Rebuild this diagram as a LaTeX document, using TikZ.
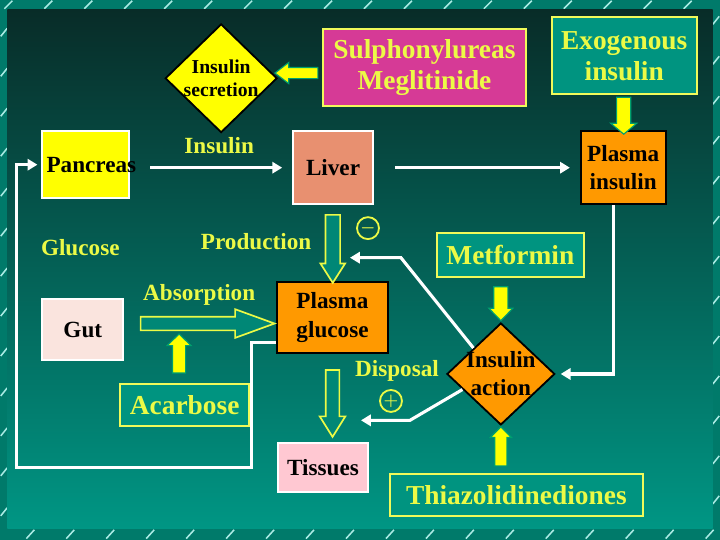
\documentclass[tikz,border=0pt]{standalone}
\usepackage{fontspec}
\setmainfont{Liberation Serif}
\usetikzlibrary{arrows.meta,positioning,shapes.geometric,shapes.arrows,calc}
\definecolor{mframe}{RGB}{0,122,106}
\definecolor{mdash}{RGB}{170,235,228}
\definecolor{mpanelt}{RGB}{8,44,40}
\definecolor{mpanelm}{RGB}{0,104,90}
\definecolor{mpanelb}{RGB}{0,150,132}
\definecolor{myellow}{RGB}{255,255,0}
\definecolor{mtext}{RGB}{236,250,70}
\definecolor{mbord}{RGB}{240,250,90}
\definecolor{mmag}{RGB}{214,58,150}
\definecolor{mbox}{RGB}{0,148,128}
\definecolor{mhollow}{RGB}{0,135,118}
\definecolor{mliver}{RGB}{232,144,112}
\definecolor{morange}{RGB}{255,153,0}
\definecolor{mgut}{RGB}{250,228,222}
\definecolor{mtis}{RGB}{255,200,210}
\definecolor{mgreen}{RGB}{0,160,110}

\begin{document}
\begin{tikzpicture}[
    box/.style={draw=mbord, line width=1.3pt, inner sep=0pt, align=center},
    ybox/.style={box, text=mtext, font=\fontsize{19.5}{22}\selectfont\bfseries},
    kbox/.style={draw, line width=1.3pt, inner sep=0pt, align=center, text=black,
                 font=\fontsize{16.5}{20}\selectfont\bfseries},
    lbl/.style={text=mtext, font=\fontsize{16.5}{18}\selectfont\bfseries},
    diam/.style={diamond, draw=black, line width=1.3pt, inner sep=0pt},
    dtxt/.style={align=center, text=black, inner sep=0pt},
    wire/.style={draw=white, line width=2.2pt, -{Triangle[length=7pt,width=8pt]}},
    fat/.style={single arrow, fill=myellow, draw=mgreen, line width=0.8pt, inner xsep=0pt},
    hollow/.style={single arrow, fill=mhollow, draw=mtext, line width=1.2pt, inner xsep=0pt},
    sign/.style={circle, draw=mtext, line width=1.3pt, text=mtext, inner sep=0pt,
                 minimum size=0.55cm, font=\fontsize{13}{13}\selectfont\boldmath},
  ]
    % frame and panel
    \fill[mframe] (0,0) rectangle (18,13.5);
    \foreach \x in {0.1,1.1,...,17.2}
      \draw[mdash, line width=1.1pt] (\x,13.29) -- ++(0.2,0.2);
    \foreach \x in {0.65,1.65,...,17.7}
      \draw[mdash, line width=1.1pt] (\x,0.03) -- ++(0.2,0.22);
    \foreach \y in {0.6,1.6,...,13}
      \draw[mdash, line width=1.1pt] (0.01,\y) -- ++(0.16,0.2);
    \foreach \y in {0.9,1.9,...,13}
      \draw[mdash, line width=1.1pt] (17.83,\y) -- ++(0.16,0.2);
    \shade[top color=mpanelt, middle color=mpanelm, bottom color=mpanelb]
      (0.175,0.275) rectangle (17.825,13.275);

    % boxes
    \node[ybox, fill=mmag, minimum width=5.075cm, minimum height=1.925cm] (sulf) at (10.6125,11.8125) {Sulphonylureas\\Meglitinide};
    \node[ybox, fill=mbox, minimum width=3.625cm, minimum height=1.925cm] (exo) at (15.6125,12.1125) {Exogenous\\insulin};
    \node[diam, fill=myellow, minimum width=2.8cm, minimum height=2.72cm,
          label={[dtxt, font=\fontsize{14}{17}\selectfont\bfseries]center:{Insulin\\secretion}}] (secr) at (5.525,11.55) {};
    \node[kbox, draw=white, fill=myellow, minimum width=2.175cm, minimum height=1.675cm,
          label={[dtxt, font=\fontsize{16.5}{20}\selectfont\bfseries, xshift=0.14cm]center:Pancreas}] (pan) at (2.1375,9.3875) {};
    \node[kbox, draw=white, fill=mliver, minimum width=2cm, minimum height=1.825cm] (liver) at (8.325,9.3125) {Liver};
    \node[kbox, fill=morange, minimum width=2.125cm, minimum height=1.825cm] (pins) at (15.5875,9.3125) {Plasma\\insulin};
    \node[ybox, fill=mbox, minimum width=3.675cm, minimum height=1.1cm] (met) at (12.7625,7.125) {Metformin};
    \node[kbox, fill=morange, minimum width=2.775cm, minimum height=1.775cm] (pglu) at (8.3125,5.5625) {Plasma\\glucose};
    \node[kbox, draw=white, fill=mgut, minimum width=2.025cm, minimum height=1.525cm] (gut) at (2.0625,5.2625) {Gut};
    \node[ybox, fill=mbox, minimum width=3.225cm, minimum height=1.05cm] (acarb) at (4.6125,3.375) {Acarbose};
    \node[kbox, draw=white, fill=mtis, minimum width=2.25cm, minimum height=1.225cm] (tis) at (8.075,1.8125) {Tissues};
    \node[diam, fill=morange, minimum width=2.7cm, minimum height=2.55cm,
          label={[dtxt, font=\fontsize{16.5}{20}\selectfont\bfseries]center:{Insulin\\action}}] (act) at (12.525,4.15) {};
    \node[ybox, fill=mbox, minimum width=6.325cm, minimum height=1.05cm] (thia) at (12.9125,1.125) {Thiazolidinediones};

    % labels
    \node[lbl] (lins)  at (5.475,9.875) {Insulin};
    \node[lbl] (lglu)  at (2.0,7.325)   {Glucose};
    \node[lbl] (lprod) at (6.4,7.475)   {Production};
    \node[lbl] (labs)  at (4.975,6.125) {Absorption};
    \node[lbl] (ldis)  at (9.925,4.225) {Disposal};
    \node[sign] (minus) at (9.2,7.8)    {$-$};
    \node[sign] (plus)  at (9.775,3.475) {$+$};

    % block arrows
    \node[fat, rotate=180, inner ysep=0.125cm, single arrow head extend=0.125cm,
          single arrow tip angle=75, minimum height=1.075cm] (sarr) at ($(sulf.west)!0.5!(secr.east)$) {};
    \node[fat, rotate=-90, inner ysep=0.1625cm, single arrow head extend=0.15cm,
          single arrow tip angle=100, minimum height=0.925cm] (earr) at ($(exo.south)!0.5!(pins.north)$) {};
    \node[fat, rotate=-90, inner ysep=0.1625cm, single arrow head extend=0.125cm,
          single arrow tip angle=88, minimum height=0.85cm] (marr) at ($(act.north)!0.5!(act.north |- met.south)$) {};
    \node[fat, rotate=90, inner ysep=0.1375cm, single arrow head extend=0.1125cm,
          single arrow tip angle=90, minimum height=0.975cm] (tarr) at ($(act.south)!0.5!(act.south |- thia.north)$) {};
    \node[fat, rotate=90, inner ysep=0.15cm, single arrow head extend=0.1375cm,
          single arrow tip angle=92, minimum height=0.975cm] (aarr) at ($(acarb.north)+(-0.14,0.66)$) {};
    \node[hollow, rotate=-90, inner ysep=0.1625cm, single arrow head extend=0.125cm,
          single arrow tip angle=65, minimum height=1.7cm] (parr) at ($(liver.south)!0.5!(pglu.north)$) {};
    \node[hollow, rotate=-90, inner ysep=0.15cm, single arrow head extend=0.15cm,
          single arrow tip angle=64, minimum height=1.675cm] (darr) at ($(pglu.south)!0.5!(pglu.south |- tis.north)$) {};
    \node[hollow, inner ysep=0.15cm, single arrow head extend=0.1875cm,
          single arrow tip angle=40, minimum height=3.35cm] (garr) at ($(gut.east)!0.5!(pglu.west)+(-0.05,0)$) {};

    % connectors
    \coordinate (mbend) at (10.025,7.06);
    \coordinate (mtip)  at (8.75,7.06);
    \coordinate (dbend) at (10.25,2.99);
    \coordinate (dtip)  at (9.025,2.99);
    \draw[wire, shorten <=0.5cm, shorten >=0.25cm] (pan.east |- liver.west) -- (liver.west);
    \draw[wire, shorten <=0.525cm, shorten >=0.25cm] (liver.east) -- (pins.west);
    \draw[wire, shorten >=0.125cm] ($(pins.south)+(-0.25,0)$) |- (act.east);
    \draw[wire] (act.north west) -- (mbend) -- (mtip);
    \draw[wire] ($(act.west)!0.3!(act.south)$) -- (dbend) -- (dtip);
    \draw[wire, shorten >=0.1cm] ($(pglu.south west)+(0,0.275)$) -| (6.275,1.8) -- (0.4,1.8) |- (pan.west);
  \end{tikzpicture}
\end{document}
